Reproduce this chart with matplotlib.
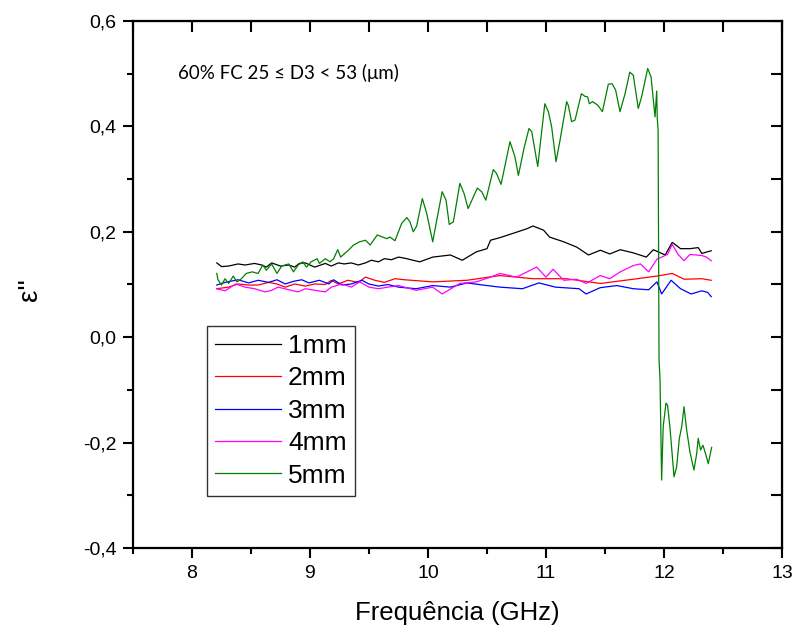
import matplotlib
matplotlib.use("Agg")
import matplotlib.pyplot as plt
from matplotlib.ticker import MultipleLocator, FixedLocator, FixedFormatter

# ---------------- data ----------------
x1 = [8.21, 8.25, 8.31, 8.39, 8.45, 8.53, 8.59, 8.63, 8.675, 8.75, 8.82, 8.87, 8.91, 8.96, 9.04,
      9.13, 9.18, 9.24, 9.29, 9.35, 9.41, 9.47, 9.52, 9.58, 9.63, 9.69, 9.75, 9.80, 9.93, 10.04,
      10.19, 10.29, 10.41, 10.50, 10.53, 10.61, 10.72, 10.84, 10.89, 10.98, 11.03, 11.15, 11.26,
      11.36, 11.46, 11.54, 11.63, 11.74, 11.85, 11.91, 12.01, 12.07, 12.14, 12.22, 12.29, 12.32,
      12.40]
y1 = [0.141, 0.134, 0.135, 0.139, 0.137, 0.140, 0.137, 0.133, 0.141, 0.135, 0.137, 0.133, 0.140,
      0.141, 0.133, 0.140, 0.135, 0.141, 0.139, 0.141, 0.137, 0.141, 0.146, 0.143, 0.149, 0.147,
      0.152, 0.150, 0.143, 0.152, 0.156, 0.146, 0.162, 0.168, 0.184, 0.189, 0.197, 0.206, 0.211,
      0.203, 0.190, 0.181, 0.171, 0.156, 0.165, 0.158, 0.166, 0.160, 0.152, 0.166, 0.156, 0.180,
      0.168, 0.168, 0.170, 0.159, 0.164]

x2 = [8.21, 8.31, 8.39, 8.48, 8.56, 8.65, 8.72, 8.79, 8.87, 8.96, 9.04, 9.13, 9.18, 9.24, 9.32,
      9.41, 9.47, 9.55, 9.63, 9.72, 9.80, 10.04, 10.33, 10.61, 10.89, 11.17, 11.46, 11.74, 11.94,
      12.07, 12.17, 12.32, 12.40]
y2 = [0.092, 0.095, 0.101, 0.099, 0.099, 0.104, 0.101, 0.095, 0.101, 0.097, 0.101, 0.100, 0.108,
      0.101, 0.108, 0.104, 0.114, 0.108, 0.104, 0.111, 0.109, 0.105, 0.108, 0.117, 0.111, 0.111,
      0.102, 0.110, 0.116, 0.121, 0.110, 0.111, 0.108]

x3 = [8.21, 8.28, 8.39, 8.48, 8.56, 8.65, 8.72, 8.79, 8.86, 8.93, 8.99, 9.08, 9.16, 9.20, 9.27,
      9.35, 9.44, 9.50, 9.58, 9.66, 9.75, 9.90, 10.04, 10.19, 10.33, 10.50, 10.61, 10.80, 10.94,
      11.08, 11.28, 11.34, 11.46, 11.60, 11.74, 11.87, 11.94, 11.98, 12.06, 12.14, 12.23, 12.32,
      12.37, 12.40]
y3 = [0.099, 0.104, 0.109, 0.103, 0.108, 0.104, 0.109, 0.101, 0.106, 0.109, 0.103, 0.108, 0.101,
      0.109, 0.099, 0.101, 0.108, 0.101, 0.097, 0.100, 0.095, 0.092, 0.098, 0.095, 0.103, 0.098,
      0.095, 0.092, 0.103, 0.095, 0.092, 0.082, 0.094, 0.098, 0.092, 0.090, 0.105, 0.082, 0.108,
      0.092, 0.082, 0.088, 0.085, 0.077]

x4 = [8.21, 8.28, 8.37, 8.45, 8.53, 8.62, 8.675, 8.73, 8.82, 8.90, 8.96, 9.04, 9.13, 9.18, 9.27,
      9.35, 9.42, 9.50, 9.58, 9.66, 9.75, 9.90, 10.04, 10.12, 10.27, 10.41, 10.53, 10.61, 10.75,
      10.84, 10.92, 11.00, 11.06, 11.15, 11.26, 11.34, 11.46, 11.54, 11.63, 11.74, 11.80, 11.87,
      11.94, 12.03, 12.07, 12.12, 12.17, 12.22, 12.32, 12.36, 12.40]
y4 = [0.092, 0.088, 0.101, 0.095, 0.092, 0.086, 0.089, 0.095, 0.090, 0.086, 0.092, 0.089, 0.086,
      0.095, 0.101, 0.095, 0.105, 0.095, 0.092, 0.095, 0.098, 0.089, 0.095, 0.082, 0.102, 0.105,
      0.114, 0.121, 0.114, 0.124, 0.133, 0.114, 0.129, 0.108, 0.110, 0.102, 0.117, 0.111, 0.124,
      0.136, 0.139, 0.124, 0.148, 0.157, 0.176, 0.157, 0.145, 0.157, 0.155, 0.152, 0.145]

x5 = [8.21, 8.22, 8.25, 8.28, 8.31, 8.35, 8.38, 8.41, 8.46, 8.51, 8.56, 8.60, 8.63, 8.675, 8.72,
      8.76, 8.82, 8.86, 8.90, 8.94, 8.97, 9.01, 9.06, 9.08, 9.13, 9.17, 9.20, 9.235, 9.26, 9.325,
      9.37, 9.395, 9.42, 9.47, 9.51, 9.57, 9.65, 9.678, 9.72, 9.777, 9.82, 9.847, 9.875, 9.904,
      9.952, 9.989, 10.04, 10.074, 10.12, 10.153, 10.18, 10.215, 10.27, 10.305, 10.34, 10.418,
      10.455, 10.49, 10.553, 10.58, 10.619, 10.695, 10.737, 10.766, 10.815, 10.856, 10.879, 10.93,
      10.99, 11.02, 11.048, 11.085, 11.119, 11.175, 11.189, 11.217, 11.246, 11.30, 11.33, 11.353,
      11.367, 11.395, 11.44, 11.478, 11.528, 11.56, 11.59, 11.627, 11.67, 11.71, 11.74, 11.782,
      11.81, 11.862, 11.89, 11.924, 11.938, 11.943, 11.95, 11.958, 11.966, 11.98, 11.993, 12.017,
      12.03, 12.05, 12.085, 12.107, 12.13, 12.15, 12.17, 12.192, 12.22, 12.254, 12.277, 12.29,
      12.31, 12.33, 12.356, 12.375, 12.404]
y5 = [0.121, 0.109, 0.099, 0.111, 0.102, 0.116, 0.105, 0.109, 0.121, 0.124, 0.121, 0.137, 0.127,
      0.139, 0.121, 0.135, 0.139, 0.124, 0.137, 0.143, 0.133, 0.143, 0.149, 0.140, 0.149, 0.143,
      0.149, 0.166, 0.152, 0.165, 0.175, 0.178, 0.181, 0.184, 0.175, 0.194, 0.187, 0.190, 0.183,
      0.216, 0.227, 0.219, 0.200, 0.211, 0.263, 0.235, 0.181, 0.222, 0.276, 0.260, 0.214, 0.219,
      0.292, 0.273, 0.244, 0.283, 0.276, 0.260, 0.318, 0.311, 0.290, 0.371, 0.342, 0.307, 0.360,
      0.396, 0.390, 0.324, 0.443, 0.428, 0.399, 0.333, 0.374, 0.447, 0.440, 0.409, 0.412, 0.462,
      0.457, 0.456, 0.443, 0.447, 0.440, 0.428, 0.480, 0.481, 0.469, 0.428, 0.462, 0.503, 0.497,
      0.434, 0.456, 0.510, 0.494, 0.418, 0.467, 0.415, 0.393, -0.044, -0.078, -0.271, -0.170,
      -0.125, -0.129, -0.170, -0.265, -0.246, -0.192, -0.170, -0.132, -0.176, -0.218, -0.252,
      -0.221, -0.192, -0.214, -0.205, -0.224, -0.240, -0.209]

series_labels = ["1mm", "2mm", "3mm", "4mm", "5mm"]
series_colors = ["black", "#ff0000", "#0000ff", "#ff00ff", "#008000"]

xtick_values = [8, 9, 10, 11, 12, 13]
xtick_labels = ["8", "9", "10", "11", "12", "13"]
ytick_values = [-0.4, -0.2, 0.0, 0.2, 0.4, 0.6]
ytick_labels = ["-0,4", "-0,2", "0,0", "0,2", "0,4", "0,6"]

annotation = "60% FC 25 \u2264 D3 < 53 (\u03bcm)"
xlabel = "Frequência (GHz)"
ylabel = "\u03b5''"

# ---------------- figure ----------------
plt.rcParams['font.family'] = ['Liberation Sans', 'DejaVu Sans']
fig = plt.figure(figsize=(7.98, 6.33), dpi=100)
ax = fig.add_axes([133/798, 1-548/633, (782-133)/798, (548-21)/633])

xs = [x1, x2, x3, x4, x5]
ys = [y1, y2, y3, y4, y5]
for xx, yy, lab, col in zip(xs, ys, series_labels, series_colors):
    ax.plot(xx, yy, color=col, lw=0.9, label=lab)

ax.set_xlim(7.5, 13)
ax.set_ylim(-0.4, 0.6)

ax.xaxis.set_major_locator(FixedLocator(xtick_values))
ax.xaxis.set_major_formatter(FixedFormatter(xtick_labels))
ax.xaxis.set_minor_locator(MultipleLocator(0.5))
ax.yaxis.set_major_locator(FixedLocator(ytick_values))
ax.yaxis.set_major_formatter(FixedFormatter(ytick_labels))
ax.yaxis.set_minor_locator(MultipleLocator(0.1))

for s in ax.spines.values():
    s.set_linewidth(1.6)

ax.tick_params(which='major', direction='out', length=7, width=1.5, labelsize=14, pad=5)
ax.tick_params(which='minor', direction='out', length=4, width=1.5)

secx = ax.secondary_xaxis('top')
secx.xaxis.set_major_locator(MultipleLocator(0.5))
secx.xaxis.set_minor_locator(FixedLocator([]))
secx.tick_params(direction='in', length=8, width=1.5, labeltop=False)
secy = ax.secondary_yaxis('right')
secy.yaxis.set_major_locator(MultipleLocator(0.1))
secy.yaxis.set_minor_locator(FixedLocator([]))
secy.tick_params(direction='in', length=8, width=1.5, labelright=False)

ax.set_xlabel(xlabel, fontsize=18.5)
ax.xaxis.set_label_coords(0.5, -0.1)
ax.set_ylabel(ylabel, fontsize=20)
ax.yaxis.set_label_coords(-0.139, 0.49)

ax.text(178/798, 1-73/633, annotation, transform=fig.transFigure, fontsize=13.5,
        family=['Lato', 'DejaVu Sans'], va='center', ha='left')

leg = ax.legend(loc='upper left', bbox_to_anchor=((207-133)/649, (548-326)/527),
                fontsize=19, frameon=True, fancybox=False, edgecolor='black',
                handlelength=2.5, handletextpad=0.27, labelspacing=0.32, borderpad=0.3,
                borderaxespad=0)
leg.get_frame().set_linewidth(1.0)

fig.savefig("out.png", dpi=100)
